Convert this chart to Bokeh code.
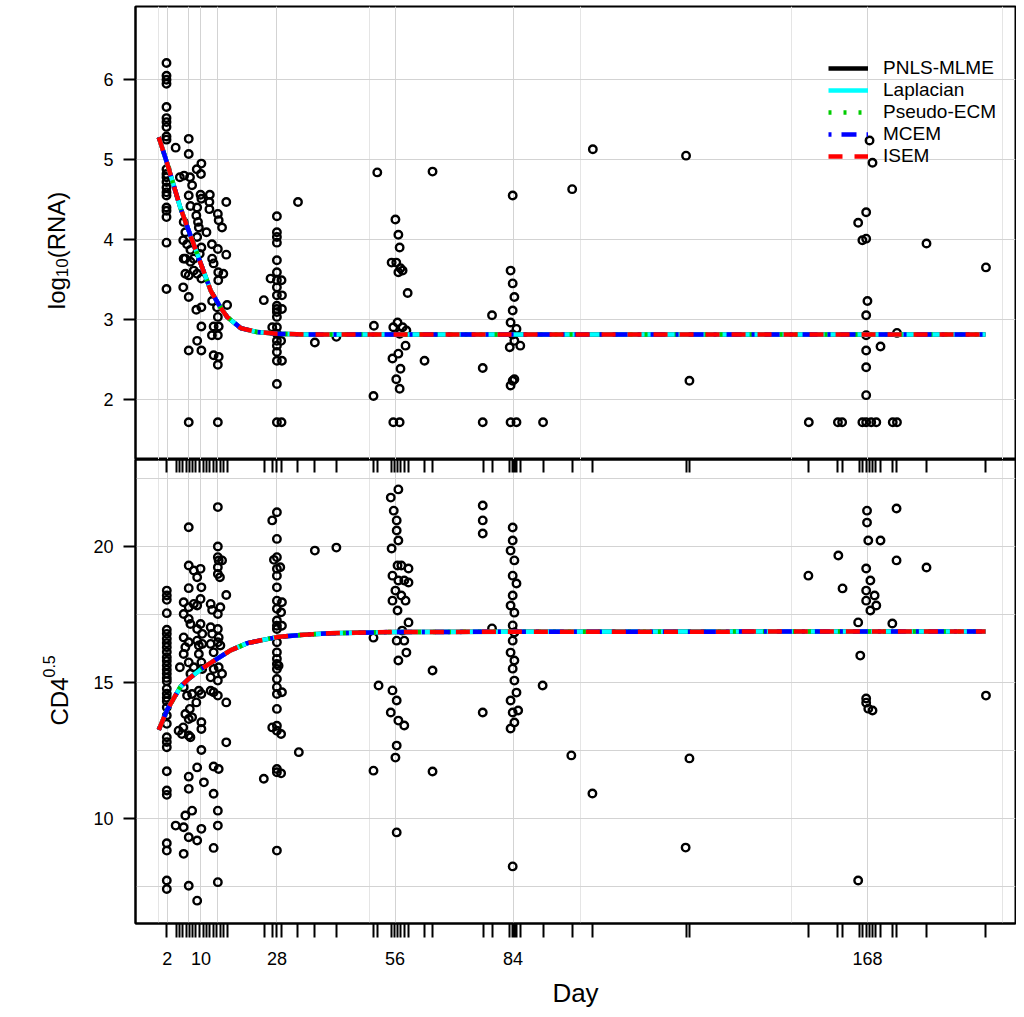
from bokeh.plotting import figure
from bokeh.models import (FixedTicker, LinearAxis, Legend, LegendItem,
                          Range1d, CustomJSTickFormatter, Grid)
from bokeh.layouts import column, row
from bokeh.embed import file_html
from bokeh.resources import INLINE
from bokeh.core.properties import value
import math

# ---------------------------------------------------------------- data
rug_days = [1.83, 4.1, 4.9, 5.7, 6.5, 7.3, 8.1, 8.8, 9.6, 10.5, 11.3, 12.1, 12.9,
            13.7, 14.6, 15.4, 16.2, 25.05, 26.95, 27.8, 29.1, 33.0, 37.0, 42.1,
            51.0, 51.8, 55.1, 55.9, 56.5, 57.4, 58.2, 59.1, 63.0, 64.9, 76.9, 79.0,
            83.1, 83.9, 84.4, 84.9, 85.7, 91.1, 98.0, 102.9, 125.0, 125.8, 154.1,
            161.0, 162.0, 166.1, 166.9, 167.7, 168.5, 169.3, 170.0, 171.1, 174.0,
            175.0, 182.0, 196.1]
grid_days = [2, 7, 10, 14, 28, 56, 84, 168]
x_tick_labels = [2, 10, 28, 56, 84, 168]
rna_ticks = [2, 3, 4, 5, 6]
cd4_ticks = [10, 15, 20]
cd4_grid = [7.5, 10, 12.5, 15, 17.5, 20, 22.5]

rna_day = ([1.83] * 22
           + [4.0, 7.1, 7.1, 5.0, 6.0, 7.4, 7.9, 9.0, 10.1, 10.0, 7.1, 9.9, 10.1, 12.1, 12.0, 12.0, 7.5, 9.1, 8.9, 9.3, 14.0, 14.2, 15.0, 16.0]
           + [5.9, 6.3, 5.8, 6.7, 7.5, 6.3, 7.5, 8.3, 9.5, 9.1, 11.3, 10.1, 9.7, 8.3, 9.1, 10.1, 5.9, 7.1, 6.3]
           + [12.6, 14.0, 16.0, 12.65, 13.0, 14.1, 15.3, 14.1]
           + [5.8, 7.1, 8.9, 10.1, 10.1, 9.1, 10.1, 7.1]
           + [12.65, 13.8, 14.0, 16.2, 13.0, 14.2, 12.6, 14.0, 13.0, 14.2, 14.0]
           + [7.1, 14.0]
           + [28.0] * 21
           + [26.5, 26.9, 29.1, 29.2, 29.2, 29.0, 29.2, 29.1, 24.9, 33.0, 37.0, 42.1]
           + [50.9, 51.8, 51.0]
           + [56.1, 56.8, 57.1, 55.2, 56.3, 57.3, 56.8, 57.8, 59.0, 56.6, 55.6, 57.8, 57.1, 58.7, 58.5, 56.8, 55.4, 57.3, 56.3, 57.1, 55.6, 57.1]
           + [63.0, 64.9, 76.8, 76.8, 79.0]
           + [83.4, 83.9, 84.3, 83.9, 83.4, 84.8, 83.9, 84.3, 83.2, 83.9, 83.9, 83.4, 84.3, 83.4, 84.8, 85.7]
           + [91.1, 98.0, 102.9, 125.0, 125.8, 154.1, 161.0, 162.0]
           + [165.8, 166.8, 167.7, 167.7, 168.0, 167.7, 167.7, 167.7, 167.7, 167.7, 168.5, 169.2, 166.8, 167.7, 168.9, 170.1, 171.1, 175.0, 174.0, 175.0, 182.0, 196.1])
rna_val = ([6.21, 6.05, 6.00, 5.95, 5.66, 5.52, 5.47, 5.41, 5.29, 5.25, 4.88, 4.82, 4.78, 4.72, 4.65, 4.59, 4.55, 4.40, 4.36, 4.28, 3.96, 3.38]
           + [5.15, 5.26, 5.07, 4.78, 4.80, 4.78, 4.68, 4.88, 4.95, 4.82, 4.55, 4.56, 4.51, 4.56, 4.47, 4.38, 4.42, 4.40, 4.30, 4.22, 4.32, 4.24, 4.15, 4.47]
           + [4.22, 4.09, 3.99, 3.94, 3.87, 3.76, 3.72, 3.76, 4.15, 4.03, 4.09, 3.90, 3.82, 3.61, 3.57, 3.51, 3.76, 3.55, 3.57]
           + [3.94, 3.88, 3.81, 3.76, 3.70, 3.59, 3.57, 3.49]
           + [3.40, 3.28, 3.12, 3.15, 2.91, 2.73, 2.61, 2.61]
           + [3.23, 3.15, 3.03, 3.18, 2.91, 2.91, 2.80, 2.80, 2.55, 2.53, 2.43]
           + [1.71, 1.71]
           + [4.29, 4.09, 4.03, 3.96, 3.74, 3.59, 3.49, 3.40, 3.30, 3.17, 3.13, 3.09, 3.03, 2.90, 2.82, 2.73, 2.67, 2.59, 2.48, 2.19, 1.71]
           + [3.51, 2.90, 3.49, 3.30, 3.13, 2.73, 2.48, 1.71, 3.24, 4.47, 2.71, 2.78]
           + [2.04, 4.84, 2.92]
           + [4.25, 4.06, 3.90, 3.71, 3.71, 3.64, 3.59, 3.61, 3.33, 2.96, 2.90, 2.90, 2.82, 2.86, 2.67, 2.57, 2.51, 2.38, 2.25, 2.13, 1.71, 1.71]
           + [2.48, 4.85, 2.39, 1.71, 3.05]
           + [3.61, 3.45, 3.28, 3.11, 2.96, 2.88, 2.81, 2.73, 2.65, 4.55, 2.23, 2.17, 2.25, 1.71, 1.71, 2.67]
           + [1.71, 4.63, 5.13, 5.05, 2.23, 1.71, 1.71, 1.71]
           + [4.21, 3.99, 4.34, 4.01, 3.23, 3.05, 2.80, 2.61, 2.40, 2.05, 5.24, 4.96, 1.71, 1.71, 1.71, 1.71, 2.66, 2.83, 1.71, 1.71, 3.95, 3.65])

cd4_day = ([1.9] * 34
           + [7.1, 7.1, 8.3, 9.9, 9.1, 10.1, 7.1, 5.9, 7.1, 8.3, 9.1, 9.9, 12.3, 12.65, 14.0, 14.6]
           + [5.9, 7.1, 7.5, 9.9, 9.1, 10.3, 12.3, 12.65, 14.0, 14.2]
           + [5.9, 6.3, 7.1, 9.1, 9.5, 10.3, 12.3, 13.0, 14.0, 14.6]
           + [5.0, 5.9, 7.1, 7.5, 9.5, 10.1, 8.3, 10.3, 13.0, 14.2, 15.0, 14.0, 12.3]
           + [5.9, 6.7, 7.9, 8.9, 10.1, 9.5, 12.3, 13.0, 14.0, 16.0]
           + [4.7, 5.8, 7.1, 7.5, 10.1, 10.1, 16.0, 10.1, 5.5, 7.35, 6.3, 7.1, 7.9]
           + [9.1, 7.1, 10.7, 13.0, 14.2, 7.1, 13.0, 7.9, 6.3, 4.0, 5.9, 10.1, 14.0, 14.0, 7.1, 9.1, 5.9, 13.0, 7.1, 9.1, 14.0]
           + [16.0, 14.0, 14.0, 14.0, 14.2, 15.0, 14.0, 14.0, 14.5]
           + [28.0] * 25
           + [26.9, 27.3, 28.8, 29.2, 29.0, 29.2, 28.4, 29.2, 26.9, 29.0, 29.0, 24.9, 33.2, 37.0, 42.1]
           + [50.9, 50.9, 52.1]
           + [55.0, 56.8, 55.7, 56.4, 56.4, 56.8, 55.2, 56.6, 57.5, 55.4, 56.8, 58.2, 56.1, 57.5, 55.4, 58.5, 56.6, 59.2, 59.2, 57.7, 56.4, 58.2, 58.7, 56.8, 55.4, 56.4, 55.0, 56.8, 58.2, 56.4, 56.1, 56.4, 59.2]
           + [64.9, 64.9, 76.8, 76.8, 76.8, 76.8, 79.0]
           + [83.9, 83.9, 83.4, 84.3, 83.9, 84.8, 83.9, 83.4, 84.3, 83.9, 84.3, 83.9, 83.4, 84.3, 83.9, 84.3, 84.8, 83.4, 83.9, 84.3, 83.4, 85.2, 83.9]
           + [91.0, 97.8, 102.8, 124.9, 125.8, 154.0, 161.1, 162.1]
           + [165.8, 166.3, 165.8, 167.9, 167.9, 168.2, 167.7, 168.7, 167.7, 167.7, 168.7, 167.7, 167.7, 168.2, 169.2, 170.1, 169.7, 171.1, 173.9, 174.9, 174.9, 182.0, 196.1])
cd4_val = ([18.38, 18.20, 18.04, 17.55, 16.94, 16.79, 16.61, 16.45, 16.30, 16.12, 15.93, 15.79, 15.63, 15.47, 15.32, 15.17, 15.05, 14.77, 14.59, 14.44, 14.31, 14.09, 13.79, 13.48, 12.99, 12.81, 12.62, 11.74, 11.03, 10.87, 9.09, 8.82, 7.72, 7.41]
           + [20.71, 19.30, 19.12, 19.18, 18.87, 18.50, 18.47, 17.95, 17.77, 17.89, 17.83, 18.07, 17.89, 17.67, 17.52, 17.77]
           + [17.52, 17.34, 17.15, 17.15, 16.97, 16.79, 17.03, 16.79, 16.97, 16.66]
           + [16.66, 16.30, 16.48, 16.54, 16.36, 16.42, 16.42, 16.11, 16.48, 16.36]
           + [15.56, 16.05, 15.74, 15.32, 16.05, 15.74, 15.56, 15.50, 15.50, 15.56, 15.32, 15.07, 15.19]
           + [14.83, 14.52, 14.58, 14.27, 14.58, 14.70, 14.70, 14.64, 14.52, 14.27]
           + [13.23, 13.35, 13.05, 12.99, 13.54, 13.29, 12.80, 12.52, 13.11, 14.03, 13.84, 13.66, 13.72]
           + [11.88, 11.54, 11.33, 11.91, 11.82, 11.09, 10.91, 10.29, 10.11, 9.74, 9.68, 9.62, 10.29, 9.74, 9.31, 9.19, 8.70, 8.92, 7.53, 6.98, 7.66]
           + [18.22, 21.45, 20.00, 19.61, 19.49, 19.49, 19.24, 18.99, 18.87]
           + [21.26, 20.28, 19.61, 19.18, 18.93, 18.50, 18.01, 17.71, 17.28, 17.09, 16.97, 16.48, 16.11, 15.87, 15.68, 15.50, 15.13, 14.83, 14.58, 14.03, 13.41, 13.23, 11.82, 11.70, 8.82]
           + [20.96, 19.51, 19.24, 17.95, 17.58, 17.09, 15.62, 14.64, 13.35, 13.11, 11.66, 11.46, 12.44, 19.85, 19.96]
           + [11.76, 16.65, 14.89]
           + [21.80, 22.10, 21.32, 20.96, 20.59, 20.22, 19.93, 19.30, 19.30, 18.93, 18.75, 18.75, 18.38, 18.20, 18.01, 18.01, 17.65, 19.19, 18.68, 16.91, 16.54, 16.54, 16.10, 15.81, 14.71, 14.34, 13.90, 13.60, 13.42, 12.68, 12.24, 9.49, 17.21]
           + [15.44, 11.73, 21.51, 20.96, 20.48, 13.90, 16.99]
           + [20.70, 20.22, 19.85, 19.49, 18.93, 18.64, 18.20, 17.83, 17.57, 17.10, 16.84, 16.54, 16.10, 15.81, 15.51, 15.07, 14.63, 14.34, 13.90, 13.53, 13.31, 13.97, 8.24]
           + [14.89, 12.32, 10.92, 8.93, 12.21, 18.93, 19.67, 18.46]
           + [17.21, 15.99, 7.72, 21.32, 20.88, 20.22, 19.19, 18.75, 18.38, 18.01, 17.65, 14.41, 14.26, 14.04, 13.97, 17.83, 18.20, 20.22, 17.17, 19.49, 21.40, 19.23, 14.52])

rna_fit_day = [0.0, 2.0, 5.1, 9.1, 12.3, 14.6, 16.2, 19.4, 23.3, 28.0, 35.0, 196.0]
rna_fit_val = [5.28, 4.95, 4.40, 3.82, 3.36, 3.15, 3.03, 2.89, 2.84, 2.82, 2.81, 2.81]
cd4_fit_day = [0.0, 2.0, 5.1, 7.1, 10.1, 13.8, 17.0, 21.0, 28.0, 34.4, 40.7, 56.0, 196.0]
cd4_fit_val = [13.26, 14.00, 14.83, 15.14, 15.50, 15.87, 16.18, 16.45, 16.67, 16.76, 16.81, 16.86, 16.88]

methods = ["PNLS-MLME", "Laplacian", "Pseudo-ECM", "MCEM", "ISEM"]

assert len(rna_day) == len(rna_val)
assert len(cd4_day) == len(cd4_val)

# ---------------------------------------------------------------- layout / style
FONT = "Liberation Sans"
GRID = "#d3d3d3"
styles = {
    "PNLS-MLME": dict(line_color="black", line_width=4.5, line_dash="solid"),
    "Laplacian": dict(line_color="#00ffff", line_width=4.5, line_dash="solid"),
    "Pseudo-ECM": dict(line_color="#00cd00", line_width=4.5, line_dash="3 12"),
    "MCEM": dict(line_color="#0000ff", line_width=4.5, line_dash="3 10 15 10"),
    "ISEM": dict(line_color="#ff0000", line_width=4.5, line_dash="14 12"),
}

LABEL_W = 80          # strip holding the rotated y-axis titles
FRAME_W = 880
LEFT = 55             # axis area of each panel (frame starts at 135 px)
X0, X1 = -5.52, 203.1
TOP1, H1 = 6, 453
Y1 = (1.244, 6.918)
H2 = 464
Y2 = (6.14, 23.2)

x_range = Range1d(X0, X1)


def style_common(p):
    p.outline_line_color = "black"
    p.outline_line_width = 2
    p.outline_line_alpha = 1
    p.background_fill_color = "white"
    p.border_fill_color = "white"
    ax = p.yaxis[0]
    ax.axis_line_width = 2
    ax.axis_line_color = "black"
    ax.major_tick_out = 12
    ax.major_tick_in = 0
    ax.major_tick_line_width = 2
    ax.minor_tick_line_color = None
    ax.major_label_text_font = FONT
    ax.major_label_text_font_size = "18px"
    ax.major_label_text_color = "black"
    ax.major_label_standoff = 10
    p.ygrid[0].grid_line_color = GRID
    p.ygrid[0].grid_line_width = 1
    p.add_layout(Grid(dimension=0, ticker=FixedTicker(ticks=grid_days),
                      grid_line_color=GRID, grid_line_width=1))


# ---------------------------------------------------------------- top panel
p1 = figure(frame_width=FRAME_W, frame_height=H1, x_range=x_range,
            y_range=Range1d(*Y1), output_backend="svg",
            toolbar_location=None, x_axis_location=None,
            min_border_left=LEFT, min_border_right=1, min_border_top=TOP1,
            min_border_bottom=0)
style_common(p1)
p1.yaxis[0].ticker = FixedTicker(ticks=rna_ticks)
p1.ygrid[0].ticker = FixedTicker(ticks=rna_ticks)

p1.scatter(rna_day, rna_val, marker="circle", size=7.5, fill_color=None,
           line_color="black", line_width=2.4)
items = []
for m in methods:
    r = p1.line(rna_fit_day, rna_fit_val, **styles[m])
    items.append(LegendItem(label=m, renderers=[r]))

legend = Legend(items=items, location=(693, 292), orientation="vertical",
                glyph_width=40, glyph_height=20, label_height=20,
                label_standoff=15, spacing=-1, padding=0, margin=0,
                border_line_color=None, background_fill_alpha=0,
                label_text_font=FONT, label_text_font_size="19px",
                label_text_color="black")
p1.add_layout(legend)

# ---------------------------------------------------------------- bottom panel
p2 = figure(frame_width=FRAME_W, frame_height=H2, x_range=x_range,
            y_range=Range1d(*Y2), output_backend="svg",
            toolbar_location=None, x_axis_location=None,
            min_border_left=LEFT, min_border_right=1, min_border_top=0,
            min_border_bottom=0)
style_common(p2)
p2.yaxis[0].ticker = FixedTicker(ticks=cd4_ticks)
p2.ygrid[0].ticker = FixedTicker(ticks=cd4_grid)

blank = CustomJSTickFormatter(code="return ''")
rug_top = LinearAxis(ticker=FixedTicker(ticks=rug_days), formatter=blank,
                     major_tick_in=13, major_tick_out=0, major_tick_line_width=2,
                     axis_line_width=2, minor_tick_line_color=None,
                     major_label_text_font_size="0px", major_label_standoff=0)
p2.add_layout(rug_top, "above")
rug_bottom = LinearAxis(ticker=FixedTicker(ticks=rug_days), formatter=blank,
                        major_tick_in=0, major_tick_out=14, major_tick_line_width=2,
                        axis_line_width=2, minor_tick_line_color=None,
                        major_label_text_font_size="0px", major_label_standoff=0)
p2.add_layout(rug_bottom, "below")
lab_axis = LinearAxis(ticker=FixedTicker(ticks=x_tick_labels), major_tick_in=0,
                      major_tick_out=0, axis_line_color=None,
                      minor_tick_line_color=None, major_label_standoff=14,
                      major_label_text_font=FONT, major_label_text_font_size="18px",
                      major_label_text_color="black", axis_label="Day",
                      axis_label_text_font=FONT, axis_label_text_font_size="26px",
                      axis_label_text_font_style="normal",
                      axis_label_text_color="black", axis_label_standoff=10)
p2.add_layout(lab_axis, "below")

p2.scatter(cd4_day, cd4_val, marker="circle", size=7.5, fill_color=None,
           line_color="black", line_width=2.4)
for m in methods:
    p2.line(cd4_fit_day, cd4_fit_val, **styles[m])

# ---------------------------------------------------------------- y-axis titles strip
# coordinates of this strip are page pixels (y grows downward)
STRIP_H = TOP1 + H1 + H2
lab = figure(frame_width=LABEL_W, frame_height=STRIP_H,
             x_range=Range1d(0, LABEL_W), y_range=Range1d(STRIP_H, 0),
             output_backend="svg", toolbar_location=None,
             x_axis_location=None, y_axis_location=None,
             min_border_left=0, min_border_right=0, min_border_top=0,
             min_border_bottom=0)
lab.outline_line_color = None
lab.xgrid.visible = False
lab.ygrid.visible = False
lab.background_fill_color = "white"
lab.border_fill_color = "white"


def vtext(px, py, txt, size):
    lab.text(x=[px], y=[py], text=[txt], angle=math.pi / 2,
             text_font=value(FONT), text_font_size=value(size),
             text_align="left", text_baseline="alphabetic", text_color="black")


# log10(RNA): main text, lowered subscript, main text
vtext(56, 308.7, "log", "24px")
vtext(61, 276.7, "10", "17px")
vtext(56, 257.8, "(RNA)", "24px")
# CD4^0.5: main text, raised superscript
vtext(59, 725, "CD4", "24px")
vtext(48, 677, "0.5", "16px")

layout = row(lab, column(p1, p2))
open("out.html", "w").write(file_html(layout, INLINE))
